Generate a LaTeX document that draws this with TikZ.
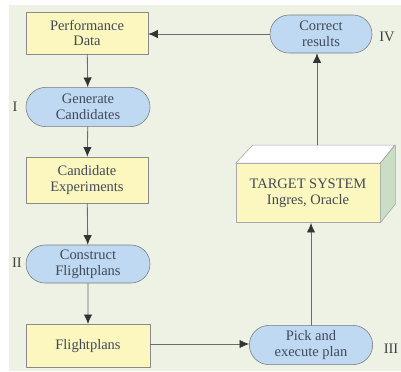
\documentclass[tikz,border=0pt]{standalone}
\usepackage{fontspec}
\setmainfont{Liberation Serif}
\usepackage{tikz}
\usetikzlibrary{arrows.meta}
\usetikzlibrary{positioning}
\usetikzlibrary{shapes.misc}
\definecolor{bgcol}{rgb}{0.93,0.95,0.90}
\definecolor{boxyellow}{rgb}{0.99,0.965,0.75}
\definecolor{boxblue}{rgb}{0.75,0.85,0.95}
\definecolor{sidegreen}{rgb}{0.79,0.87,0.77}
\definecolor{txtcol}{rgb}{0.25,0.29,0.35}
\definecolor{linecol}{rgb}{0.42,0.42,0.42}

\begin{document}
\begin{tikzpicture}[line cap=round,line join=round, x=0.025cm,y=-0.025cm,
  font=\fontsize{10.3}{11.3}\selectfont, text=txtcol,
  databox/.style={draw=linecol!80, fill=boxyellow, align=center, inner sep=0pt},
  stepnode/.style={rounded rectangle, draw=linecol!90, fill=boxblue, align=center, inner sep=0pt},
  flow/.style={linecol, semithick, -{Latex[length=2.4mm, width=2.1mm, color=black!80]}}]
\useasboundingbox (0,0) rectangle (401,371);
\fill [color=bgcol] (9,5) rectangle (401,371);
% left column
\node [databox, minimum width=3.05cm, minimum height=1.05cm] (perf) at (87,33) {Performance\\Data};
\node [stepnode, minimum width=3.1cm, minimum height=0.98cm] (gen) at (88,107) {Generate\\Candidates};
\node [databox, minimum width=3.05cm, minimum height=1.15cm] (cand) at (87,180) {Candidate\\Experiments};
\node [stepnode, minimum width=3.1cm, minimum height=0.95cm] (cons) at (88,264) {Construct\\Flightplans};
\node [databox, minimum width=3.1cm, minimum height=1.08cm] (flight) at (88,346) {Flightplans};
% right column
\node [stepnode, minimum width=3.08cm, minimum height=0.98cm] (pick) at (311,345) {Pick and\\execute plan};
\node [stepnode, minimum width=2.55cm, minimum height=0.95cm] (corr) at (321,34) {Correct\\results};
\node [databox, draw=linecol!60, minimum width=3.6cm, minimum height=1.48cm] (target) at (308,193) {TARGET SYSTEM\\Ingres, Oracle};
\draw [draw=linecol!60, fill=white] (target.north west) -- ++(17,-18) -- ++(142,0) -- (target.north east) -- cycle;
\draw [draw=linecol!60, fill=sidegreen] (target.north east) -- ++(15,-18) -- ++(0,59) -- (target.south east) -- cycle;
\coordinate (tgtop) at (317,145);
% connectors
\draw [flow] (perf) -- (gen);
\draw [flow] (gen) -- (cand);
\draw [flow] (cand) -- (cons);
\draw [flow] (cons) -- (flight);
\draw [flow] (flight.east |- 0,344) -- (pick.west |- 0,344);
\draw [flow] (pick.north) -- (pick.north |- target.south);
\draw [flow] (tgtop) -- (tgtop |- corr.south);
\draw [flow] (corr.west) -- (corr.west -| perf.east);
% step numbers
\node [text=black!75] (lab1) at (15,107) {I};
\node [text=black!75] (lab2) at (17,263) {II};
\node [text=black!75] (lab3) at (391,349) {III};
\node [text=black!75] (lab4) at (387,37) {IV};
\end{tikzpicture}
\end{document}
